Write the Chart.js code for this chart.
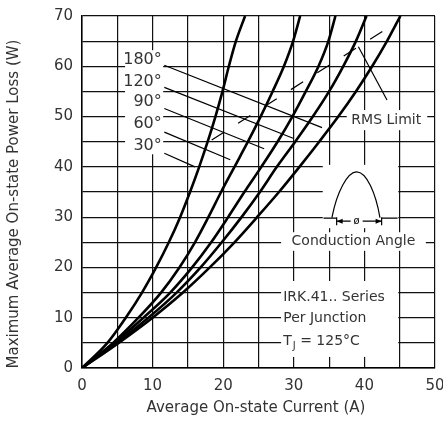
<!DOCTYPE html>
<html>
<head>
<meta charset="utf-8">
<script src="https://cdn.jsdelivr.net/npm/chart.js@4.4.1/dist/chart.umd.min.js"></script>
<style>
  html, body { margin: 0; padding: 0; background: #fff; }
  #wrap { width: 443px; height: 434px; }
</style>
</head>
<body>
<div id="wrap"><canvas id="myChart"></canvas></div>
<script>
// power loss levels (W), shared by every curve
const powerW = [0, 5, 10, 15, 20, 25, 30, 35, 40, 45, 50, 55, 60, 65, 70];

// average current (A) at each power level, one list per conduction angle
const cur30  = [0, 3.6, 6.2, 8.5, 10.5, 12.3, 13.9, 15.3, 16.6, 17.8, 18.9, 19.9, 20.8, 21.8, 23.1];
const cur60  = [0, 4.4, 8.0, 11.2, 13.8, 16.0, 17.9, 19.7, 21.6, 23.5, 25.3, 27.0, 28.6, 29.9, 30.9];
const cur90  = [0, 4.6, 8.7, 12.5, 15.6, 18.3, 20.7, 23.0, 25.4, 27.7, 29.8, 31.7, 33.5, 34.9, 35.9];
const cur120 = [0, 4.9, 9.4, 13.4, 16.8, 19.8, 22.6, 25.2, 27.6, 30.2, 32.7, 35.0, 37.0, 38.8, 40.3];
const cur180 = [0, 5.2, 10.0, 14.3, 18.1, 21.6, 24.8, 27.9, 30.8, 33.6, 36.3, 38.8, 41.1, 43.2, 45.1];

const angleLabels = ['30°', '60°', '90°', '120°', '180°'];

// RMS limit line (A, W)
const rmsCur = [18.37, 42.68];
const rmsPow = [45.33, 67.06];

const xTicks = [0, 10, 20, 30, 40, 50];
const yTicks = [0, 10, 20, 30, 40, 50, 60, 70];

const FONT = '"DejaVu Sans", sans-serif';
const TXT = '#333';

const toPts = (xs, ys) => xs.map((v, i) => ({ x: v, y: ys[i] }));

// leader lines from the angle labels to their curves
const leaders = [
  [[11.66, 42.7], [16.0, 40.0]],
  [[11.66, 46.9], [21.0, 41.4]],
  [[11.66, 51.6], [25.8, 43.6]],
  [[11.66, 55.8], [29.9, 45.7]],
  [[11.66, 60.2], [34.0, 47.8]]
];

const curveSet = (data) => ({
  data: toPts(data, powerW),
  showLine: true, borderColor: '#000', borderWidth: 2.6,
  pointRadius: 0, cubicInterpolationMode: 'monotone', fill: false
});
const thin = (pts, extra) => Object.assign({
  data: pts.map(p => ({ x: p[0], y: p[1] })),
  showLine: true, borderColor: '#000', borderWidth: 1.2,
  pointRadius: 0, tension: 0, fill: false
}, extra || {});

const datasets = [cur30, cur60, cur90, cur120, cur180].map(curveSet)
  .concat(leaders.map(l => thin(l)))
  .concat([thin(toPts(rmsCur, rmsPow).map(p => [p.x, p.y]), { borderDash: [14.5, 16.8] })])
  .concat([thin([[39.15, 63.9], [43.2, 53.3]])]);

// white patches behind the notes [x0, x1, y0, y1] in data units
const patches = [
  [6.1, 11.5, 42.5, 63.2],
  [37.5, 48.9, 47.3, 51.3],
  [34.1, 44.8, 27.8, 40.4],
  [28.2, 48.7, 23.3, 27.0],
  [28.2, 44.8, 2.2, 17.3]
];
const angleY = [44.1, 48.5, 52.9, 57.0, 61.2];

const notes = {
  id: 'notes',
  beforeDatasetsDraw(chart) {
    const { ctx, scales: { x, y } } = chart;
    ctx.save();
    ctx.fillStyle = '#fff';
    patches.forEach(b => {
      const x0 = x.getPixelForValue(b[0]), x1 = x.getPixelForValue(b[1]);
      const y0 = y.getPixelForValue(b[3]), y1 = y.getPixelForValue(b[2]);
      ctx.fillRect(x0, y0, x1 - x0, y1 - y0);
    });
    ctx.restore();
  },
  afterDatasetsDraw(chart) {
    const { ctx, scales: { x, y } } = chart;
    const px = v => x.getPixelForValue(v), py = v => y.getPixelForValue(v);
    ctx.save();
    ctx.fillStyle = TXT;
    ctx.textBaseline = 'middle';

    ctx.font = '16px ' + FONT;
    ctx.textAlign = 'right';
    angleLabels.forEach((t, i) => ctx.fillText(t, px(11.3), py(angleY[i])));

    ctx.font = '14px ' + FONT;
    ctx.textAlign = 'center';
    ctx.fillText('RMS Limit', px(43.1), py(49.3));
    ctx.fillText('Conduction Angle', px(38.45), py(25.2));

    ctx.textAlign = 'left';
    ctx.fillText('IRK.41.. Series', px(28.5), py(14.0));
    ctx.fillText('Per Junction', px(28.5), py(9.9));
    let tx = px(28.5);
    ctx.fillText('T', tx, py(5.2));
    tx += ctx.measureText('T').width;
    ctx.font = '10px ' + FONT;
    ctx.fillText('J', tx + 1, py(4.2));
    tx += ctx.measureText('J').width + 1;
    ctx.font = '14px ' + FONT;
    ctx.fillText(' = 125°C', tx, py(5.2));

    // conduction angle sketch
    ctx.strokeStyle = '#000';
    ctx.lineWidth = 1.2;
    const lx = px(35.4), rx = px(42.2), pkx = px(38.9);
    const by = py(29.9), pky = py(39.0);
    ctx.beginPath();
    ctx.moveTo(lx, by);
    ctx.bezierCurveTo(lx + 5, by - 26, pkx - 9, pky, pkx, pky);
    ctx.bezierCurveTo(pkx + 10, pky, rx - 4, by - 24, rx, by);
    ctx.stroke();

    const ay = py(29.2), a0 = px(36.07), a1 = px(42.44), bl = py(29.8);
    ctx.beginPath();
    ctx.moveTo(px(34.2), bl); ctx.lineTo(a0, bl);
    ctx.moveTo(a1, bl); ctx.lineTo(px(44.7), bl);
    ctx.moveTo(a0, ay - 4); ctx.lineTo(a0, ay + 4);
    ctx.moveTo(a1, ay - 4); ctx.lineTo(a1, ay + 4);
    ctx.moveTo(a0, ay); ctx.lineTo(pkx - 6, ay);
    ctx.moveTo(pkx + 6, ay); ctx.lineTo(a1, ay);
    ctx.stroke();
    ctx.beginPath();
    ctx.moveTo(a0, ay); ctx.lineTo(a0 + 6, ay - 2.5); ctx.lineTo(a0 + 6, ay + 2.5); ctx.closePath();
    ctx.moveTo(a1, ay); ctx.lineTo(a1 - 6, ay - 2.5); ctx.lineTo(a1 - 6, ay + 2.5); ctx.closePath();
    ctx.fillStyle = '#000';
    ctx.fill();
    ctx.font = '10px ' + FONT;
    ctx.textAlign = 'center';
    ctx.fillText('ø', pkx, ay);
    ctx.restore();
  },
  afterDraw(chart) {
    const { ctx } = chart;
    ctx.save();
    ctx.fillStyle = TXT;
    ctx.font = '15px ' + FONT;
    ctx.textAlign = 'center';
    ctx.textBaseline = 'middle';
    ctx.fillText('Average On-state Current (A)', 256, 408);
    ctx.translate(14, 204);
    ctx.rotate(-Math.PI / 2);
    ctx.fillText('Maximum Average On-state Power Loss (W)', 0, 0);
    ctx.restore();
  }
};

const axisBase = {
  type: 'linear',
  grid: { color: '#111', lineWidth: 1.2, drawTicks: false },
  border: { color: '#000', width: 1.5 },
  ticks: { stepSize: 5, autoSkip: false, maxRotation: 0, padding: 9, color: TXT, font: { family: FONT, size: 15 } }
};

new Chart(document.getElementById('myChart'), {
  type: 'scatter',
  data: { datasets },
  options: {
    responsive: true,
    maintainAspectRatio: false,
    animation: false,
    layout: { padding: { top: 16, right: 8, left: 0, bottom: 0 } },
    plugins: { legend: { display: false }, tooltip: { enabled: false } },
    scales: {
      x: Object.assign({}, axisBase, {
        min: 0, max: 50,
        ticks: Object.assign({}, axisBase.ticks, { callback: v => xTicks.includes(v) ? v : '' }),
        afterFit(s) { s.height = 66; s.paddingLeft = 0; s.paddingRight = 0; }
      }),
      y: Object.assign({}, axisBase, {
        min: 0, max: 70,
        ticks: Object.assign({}, axisBase.ticks, { callback: v => yTicks.includes(v) ? v : '' }),
        afterFit(s) { s.width = 82; s.paddingTop = 0; s.paddingBottom = 0; }
      })
    }
  },
  plugins: [notes]
});
</script>
</body>
</html>
